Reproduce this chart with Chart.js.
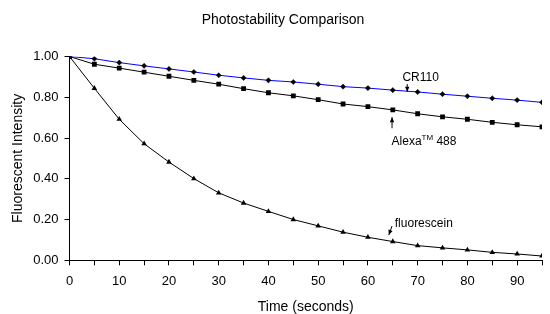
<!DOCTYPE html>
<html>
<head>
<meta charset="utf-8">
<script src="https://cdn.jsdelivr.net/npm/chart.js@4/dist/chart.umd.min.js"></script>
<style>
  html, body { margin: 0; padding: 0; background: #fff; }
  #wrap { width: 550px; height: 314px; position: relative; }
</style>
</head>
<body>
<div id="wrap"><canvas id="chart"></canvas></div>
<script>
// === data ===
const times = [0, 5, 10, 15, 20, 25, 30, 35, 40, 45, 50, 55, 60, 65, 70, 75, 80, 85, 90, 95];
const cr110 = [1.00, 0.989, 0.970, 0.954, 0.939, 0.924, 0.908, 0.895, 0.883, 0.875, 0.864, 0.852, 0.845, 0.835, 0.826, 0.815, 0.805, 0.795, 0.786, 0.775];
const alexa488 = [1.00, 0.962, 0.943, 0.923, 0.903, 0.883, 0.864, 0.842, 0.822, 0.807, 0.788, 0.767, 0.754, 0.738, 0.719, 0.704, 0.692, 0.677, 0.665, 0.655];
const fluorescein = [1.00, 0.844, 0.692, 0.572, 0.482, 0.401, 0.331, 0.281, 0.240, 0.200, 0.169, 0.138, 0.113, 0.092, 0.072, 0.061, 0.051, 0.039, 0.031, 0.021];

const titleText = "Photostability Comparison";

// annotation anchors in data units (time, intensity); text y is the baseline
const notes = [
  { text: "CR110", at: [70.6, 0.878], align: "center", arrow: [[67.9, 0.865], [67.9, 0.827]] },
  { text: "Alexa", sup: "TM", rest: " 488", at: [64.75, 0.568], align: "left", arrow: [[64.85, 0.648], [64.85, 0.702]] },
  { text: "fluorescein", at: [65.4, 0.165], align: "left", arrow: [[64.85, 0.168], [64.2, 0.124]] }
];

const FONT = "'Liberation Sans', Arial, sans-serif";

function toXY(d) {
  return d.map((v, i) => ({ x: times[i], y: v }));
}

// title (sits a little right of centre in the original) + arrows and labels
const notesPlugin = {
  id: "notes",
  afterDraw(chart) {
    const { ctx, scales: { x, y } } = chart;
    ctx.save();
    ctx.fillStyle = "#000";
    ctx.strokeStyle = "#000";
    ctx.lineWidth = 1;

    ctx.font = "14px " + FONT;
    ctx.textAlign = "center";
    ctx.textBaseline = "middle";
    ctx.fillText(titleText, 283, 20);

    notes.forEach(n => {
      const px = x.getPixelForValue(n.at[0]);
      const py = y.getPixelForValue(n.at[1]);
      ctx.textBaseline = "alphabetic";
      ctx.font = "12px " + FONT;
      if (n.sup) {
        ctx.textAlign = "left";
        ctx.fillText(n.text, px, py);
        let w = ctx.measureText(n.text).width;
        ctx.font = "8px " + FONT;
        ctx.fillText(n.sup, px + w, py - 5);
        w += ctx.measureText(n.sup).width;
        ctx.font = "12px " + FONT;
        ctx.fillText(n.rest, px + w, py);
      } else {
        ctx.textAlign = n.align;
        ctx.fillText(n.text, px, py);
      }
      // arrow
      const x1 = x.getPixelForValue(n.arrow[0][0]), y1 = y.getPixelForValue(n.arrow[0][1]);
      const x2 = x.getPixelForValue(n.arrow[1][0]), y2 = y.getPixelForValue(n.arrow[1][1]);
      const ang = Math.atan2(y2 - y1, x2 - x1);
      ctx.beginPath();
      ctx.moveTo(x1, y1);
      ctx.lineTo(x2, y2);
      ctx.stroke();
      ctx.beginPath();
      ctx.moveTo(x2, y2);
      ctx.lineTo(x2 - 5 * Math.cos(ang) + 2.2 * Math.sin(ang), y2 - 5 * Math.sin(ang) - 2.2 * Math.cos(ang));
      ctx.lineTo(x2 - 5 * Math.cos(ang) - 2.2 * Math.sin(ang), y2 - 5 * Math.sin(ang) + 2.2 * Math.cos(ang));
      ctx.closePath();
      ctx.fill();
    });
    ctx.restore();
  }
};

const ctx = document.getElementById("chart").getContext("2d");
const chart = new Chart(ctx, {
  type: "line",
  data: {
    datasets: [
      {
        label: "CR110",
        data: toXY(cr110),
        borderColor: "#0000ff",
        borderWidth: 1,
        pointStyle: "rectRot",
        pointRadius: 2.6,
        pointBackgroundColor: "#000",
        pointBorderColor: "#000",
        pointBorderWidth: 0.5,
        tension: 0
      },
      {
        label: "Alexa 488",
        data: toXY(alexa488),
        borderColor: "#000",
        borderWidth: 1,
        pointStyle: "rect",
        pointRadius: 3.4,
        pointBackgroundColor: "#000",
        pointBorderColor: "#000",
        pointBorderWidth: 0,
        tension: 0
      },
      {
        label: "fluorescein",
        data: toXY(fluorescein),
        borderColor: "#000",
        borderWidth: 1,
        pointStyle: "triangle",
        pointRadius: 3.2,
        pointBackgroundColor: "#000",
        pointBorderColor: "#000",
        pointBorderWidth: 0,
        tension: 0
      }
    ]
  },
  options: {
    responsive: true,
    maintainAspectRatio: false,
    animation: false,
    layout: { padding: { left: 0, right: 0, top: 56.5, bottom: 0 } },
    plugins: {
      legend: { display: false },
      tooltip: { enabled: false },
      title: { display: false }
    },
    scales: {
      x: {
        type: "linear",
        min: 0,
        max: 95,
        afterFit(scale) { scale.height = 53.7; },
        ticks: {
          stepSize: 5,
          autoSkip: false,
          maxRotation: 0,
          color: "#000",
          padding: 8,
          font: { family: FONT, size: 13 },
          callback: v => (v % 10 === 0 ? v : "")
        },
        grid: { drawOnChartArea: false, drawTicks: true, tickLength: 5, color: "#000" },
        border: { display: true, color: "#000" },
        title: {
          display: true,
          text: "Time (seconds)",
          color: "#000",
          font: { family: FONT, size: 14, lineHeight: 1 },
          padding: { top: 0, bottom: 0 }
        }
      },
      y: {
        min: 0,
        max: 1,
        afterFit(scale) { scale.width = 69.5; },
        ticks: {
          stepSize: 0.2,
          color: "#000",
          padding: 6,
          font: { family: FONT, size: 13 },
          callback: v => v.toFixed(2)
        },
        grid: { drawOnChartArea: false, drawTicks: true, tickLength: 5, color: "#000" },
        border: { display: true, color: "#000" },
        title: {
          display: true,
          text: "Fluorescent Intensity",
          color: "#000",
          font: { family: FONT, size: 14, lineHeight: 1 },
          padding: { top: 11, bottom: 0 }
        }
      }
    }
  },
  plugins: [notesPlugin]
});
</script>
</body>
</html>
